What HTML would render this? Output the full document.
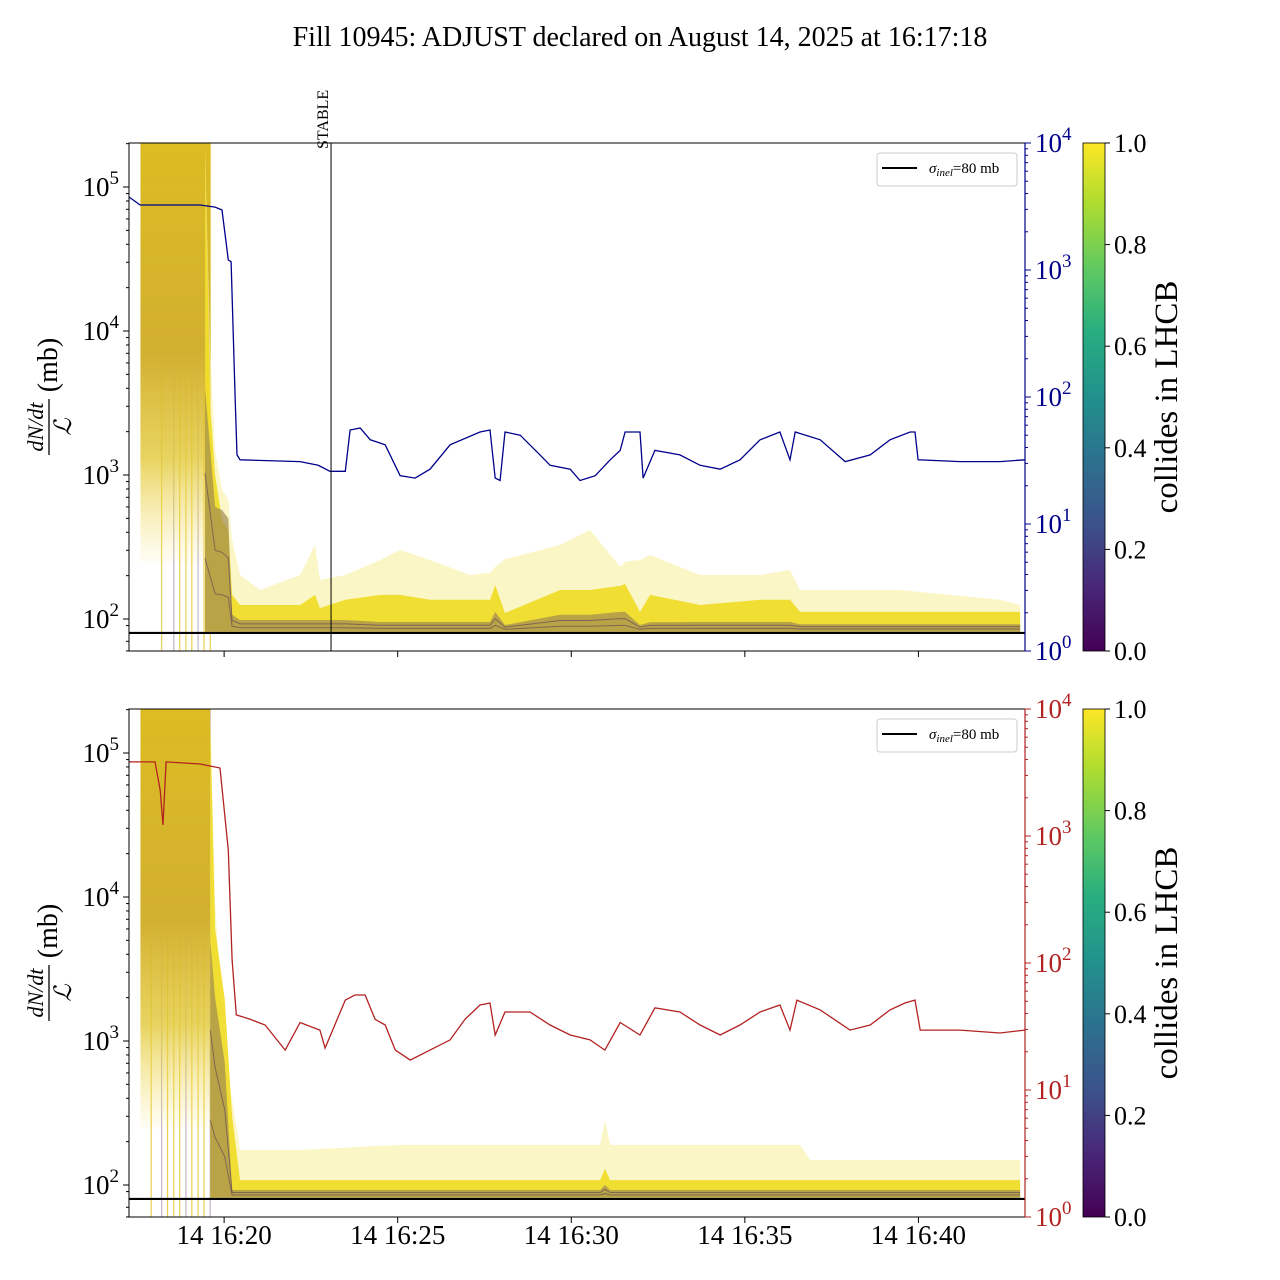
<!DOCTYPE html>
<html><head><meta charset="utf-8"><style>
html,body{margin:0;padding:0;background:#fff;}
svg{display:block;font-family:"Liberation Serif","DejaVu Serif",serif;}
</style></head><body>
<svg id="chart" width="1280" height="1280" viewBox="0 0 1280 1280" xmlns="http://www.w3.org/2000/svg">
<defs>
<linearGradient id="viridis" x1="0" y1="1" x2="0" y2="0">
<stop offset="0" stop-color="#440154"/><stop offset="0.13" stop-color="#482878"/><stop offset="0.25" stop-color="#3b528b"/><stop offset="0.38" stop-color="#2c728e"/><stop offset="0.5" stop-color="#21918c"/><stop offset="0.63" stop-color="#28ae80"/><stop offset="0.75" stop-color="#5ec962"/><stop offset="0.88" stop-color="#addc30"/><stop offset="1" stop-color="#fde725"/>
</linearGradient>
<linearGradient id="preband" x1="0" y1="0" x2="0" y2="1">
<stop offset="0" stop-color="#dcbc22"/><stop offset="0.5" stop-color="#d2b030"/><stop offset="0.75" stop-color="#e2c838" stop-opacity="0.8"/><stop offset="1" stop-color="#f5e060" stop-opacity="0.05"/>
</linearGradient>
</defs>
<text x="640" y="46" text-anchor="middle" font-size="28">Fill 10945: ADJUST declared on August 14, 2025 at 16:17:18</text>
<g id="plots"></g>
</svg>
<script>
// ---- data (time in minutes after 16:00) ----
const blueT=[17.26,17.58,19.31,19.74,19.94,20.12,20.20,20.32,20.37,20.46,22.19,22.71,23.05,23.49,23.63,23.92,24.21,24.64,25.07,25.50,25.93,26.51,27.37,27.66,27.81,27.95,28.09,28.53,29.10,29.39,29.97,30.25,30.69,31.12,31.41,31.55,31.98,32.07,32.41,33.13,33.71,34.29,34.86,35.44,36.01,36.30,36.45,37.17,37.89,38.61,39.18,39.76,39.90,39.99,41.20,42.35,43.07];
const blueV=[3760,3250,3250,3130,2970,1200,1160,95,35,32,31,29,26,26,55,57,46,42,24,23,27,42,53,55,23,22,53,50,35,29,27,22,24,32,38,53,53,23,38,35,29,27,32,46,53,32,53,46,31,35,46,53,53,32,31,31,32];
const redT=[17.26,18.01,18.16,18.24,18.33,19.31,19.88,20.12,20.23,20.35,20.75,21.18,21.76,22.19,22.76,22.91,23.49,23.77,24.06,24.35,24.64,24.93,25.36,25.93,26.51,26.94,27.37,27.66,27.81,28.09,28.81,29.39,29.97,30.54,30.97,31.41,31.98,32.41,33.13,33.71,34.29,34.86,35.44,36.01,36.30,36.50,37.17,38.03,38.61,39.18,39.61,39.90,40.05,41.20,42.35,43.07];
const redV=[3830,3830,2300,1220,3830,3690,3430,776,106,39,36,32.5,20.6,34,29.6,21.4,51,56,56,36,32.5,20.6,17.2,20.6,24.8,36,46.7,48.4,27.1,41.1,41.1,32.5,27.1,24.8,20.6,34,27.1,44.3,41.1,32.5,27.1,32.5,41.1,46.7,29.6,51,42.7,29.6,32.5,42.7,48.4,51,29.6,29.6,28.1,29.6];
// top panel band envelopes (mb)
const topT=[19.45,19.60,19.74,19.94,20.12,20.23,20.46,21.03,22.19,22.62,22.76,23.49,24.50,25.07,25.93,27.08,27.66,27.81,28.09,29.68,30.54,31.41,31.55,31.98,32.27,33.71,35.44,36.30,36.59,39.47,42.35,42.93];
const topUpper=[2.0e5,7380,1490,787,670,354,202,159,202,327,187,202,257,302,257,202,210,230,260,327,415,230,250,257,278,202,202,220,159,159,136,125];
const topDense=[1.5e5,3000,1000,487,415,147,125,125,125,147,119,136,147,147,136,136,136,172,110,159,159,170,175,112,147,125,136,136,112,112,112,112];
const topDark=[4000,1500,600,571,500,107,98.5,98.5,98.5,98.5,98.5,98.5,95.3,95.3,95.3,95.3,95.3,112,90.8,107,107,112,112,90.8,95,95.3,95.3,95.3,92,92,92,92];
const botT=[19.60,19.74,20.02,20.23,20.46,22.19,25.07,30.83,30.97,31.12,36.59,36.88,42.93];
const botUpper=[2.0e5,9530,738,389,175,175,190,190,282,190,190,149,149];
const botDense=[1.69e5,6000,1930,300,108,108,108,108,130,108,108,108,108];
const botDark=[5000,2000,700,92.3,92.3,92.3,92.3,92.3,100,92.3,92.3,92.3,92.3];
const spikesTop=[18.20,18.55,18.72,18.90,19.07,19.25,19.42,19.60];
const spikesBot=[17.90,18.20,18.37,18.55,18.72,18.90,19.07,19.25,19.42,19.60];
const xTicks=[20,25,30,35,40];
const xTickLabels=["14 16:20","14 16:25","14 16:30","14 16:35","14 16:40"];
const cbTicks=[0,0.2,0.4,0.6,0.8,1.0];
const sigma=80;
const stableT=23.08;

// ---- axes ----
const X0=129,X1=1025,T0=17.26,T1=43.07;
const xs=t=>X0+(t-T0)/(T1-T0)*(X1-X0);
const NS="http://www.w3.org/2000/svg";
const root=document.getElementById('plots');
function el(tag,attrs,parent,text){const e=document.createElementNS(NS,tag);for(const k in attrs)e.setAttribute(k,attrs[k]);if(text!==undefined)e.textContent=text;(parent||root).appendChild(e);return e;}

function panel(p){
  const top=p.top,bot=p.top+508;
  const yl=v=>p.top+44+(5-Math.log10(v))*144;
  const yr=v=>bot-Math.log10(v)*127;
  const g=el('g',{});
  
  
  const clip='clip'+p.name;
  const cp=el('clipPath',{id:clip},g);el('rect',{x:X0,y:top,width:X1-X0,height:508},cp);
  const pg=el('g',{'clip-path':'url(#'+clip+')'},g);
  p.spikes.forEach((t,i)=>{const l=el('line',{x1:xs(t),x2:xs(t),y1:top,y2:bot,stroke:i%4==1?'#b8a8c0':'#e8c830','stroke-width':1.2,opacity:0.85},pg);
    
    });
  const pre=el('rect',{x:xs(17.59),y:top,width:xs(19.6)-xs(17.59),height:420,fill:'url(#preband)'},pg);
  
  
  const poly=(arrT,arrA,arrB,fill,op,name)=>{let d='';arrT.forEach((t,i)=>d+=(i?'L':'M')+xs(t)+','+yl(arrA[i]));for(let i=arrT.length-1;i>=0;i--)d+='L'+xs(arrT[i])+','+yl(arrB[i]);
    const e=el('path',{d:d+'Z',fill:fill,opacity:op},pg);
    
    };
  const floor=p.T.map(()=>sigma*1.02);
  poly(p.T,p.upper,floor,'#f9f0a0',0.6,'band-faint');
  poly(p.T,p.dense,floor,'#f0dc22',0.9,'band-dense');
  poly(p.T,p.dark,floor,'#a08a50',0.7,'band-dark');
  [0.35,0.7].forEach(f=>{let d='';p.T.forEach((t,i)=>{const v=Math.pow(10,Math.log10(p.dark[i])*(1-f)+Math.log10(sigma*1.03)*f);d+=(i?'L':'M')+xs(t)+','+yl(v);});
    const e=el('path',{d:d,fill:'none',stroke:'#4a2a60','stroke-width':1,opacity:0.5},pg);
    
    });
  const sl=el('line',{x1:X0,x2:X1,y1:yl(sigma),y2:yl(sigma),stroke:'#000','stroke-width':2.2},pg);
  
  
  let d='';p.rT.forEach((t,i)=>d+=(i?'L':'M')+xs(t).toFixed(1)+','+yr(p.rV[i]).toFixed(1));
  const rl=el('path',{d:d,fill:'none',stroke:p.rc,'stroke-width':1.3},pg);
  
  
  if(p.stable){const s=el('line',{x1:xs(stableT),x2:xs(stableT),y1:top,y2:bot,stroke:'#000','stroke-width':1},g);
    
    
    const st=el('text',{x:0,y:0,'font-size':16,transform:`translate(${xs(stableT)-3},${top+6}) rotate(-90)`},g,'STABLE');
    
    }
  el('rect',{x:X0,y:top,width:X1-X0,height:508,fill:'none',stroke:'#000','stroke-width':1},g);
  for(let e=2;e<=5;e++){const y=yl(Math.pow(10,e));el('line',{x1:X0-6,x2:X0,y1:y,y2:y,stroke:'#000'},g);
    const t=el('text',{x:X0-10,y:y+9,'text-anchor':'end','font-size':27},g);
    
    
    el('tspan',{},t,'10');el('tspan',{dy:-12,'font-size':19},t,String(e));
    for(let m=2;m<10;m++){const v=m*Math.pow(10,e);const yy=yl(v);if(yy>top&&yy<bot)el('line',{x1:X0-3,x2:X0,y1:yy,y2:yy,stroke:'#000'},g);}
  }
  [60,70,90].forEach(v=>el('line',{x1:X0-3,x2:X0,y1:yl(v),y2:yl(v),stroke:'#000'},g));
  el('line',{x1:X1,x2:X1,y1:top,y2:bot,stroke:p.rc,'stroke-width':1.2},g);
  for(let e=0;e<=4;e++){const y=yr(Math.pow(10,e));el('line',{x1:X1,x2:X1+6,y1:y,y2:y,stroke:p.rc},g);
    const t=el('text',{x:X1+10,y:y+9,'font-size':27,fill:p.rc},g);
    
    
    el('tspan',{},t,'10');el('tspan',{dy:-12,'font-size':19},t,String(e));
    if(e<4)for(let m=2;m<10;m++){const yy=yr(m*Math.pow(10,e));el('line',{x1:X1,x2:X1+3,y1:yy,y2:yy,stroke:p.rc},g);}
  }
  xTicks.forEach((t,i)=>{const x=xs(t);el('line',{x1:x,x2:x,y1:bot,y2:bot+6,stroke:'#000'},g);
    if(p.labels){const tl=el('text',{x:x,y:bot+27,'text-anchor':'middle','font-size':27},g,xTickLabels[i]);
      
      }});
  const cy=top+254;
  const yg=el('g',{transform:`translate(47,${cy}) rotate(-90)`},g);
  
  
  el('text',{x:-30,y:-4,'text-anchor':'middle','font-size':22,'font-style':'italic'},yg,'dN/dt');
  el('line',{x1:-58,x2:-2,y1:2,y2:2,stroke:'#000','stroke-width':1.3},yg);
  el('text',{x:-30,y:24,'text-anchor':'middle','font-size':24,'font-style':'italic'},yg,'ℒ');
  el('text',{x:32,y:10,'text-anchor':'middle','font-size':28},yg,'(mb)');
  const lg=el('g',{},g);
  
  
  el('rect',{x:877,y:top+10,width:140,height:33,rx:3,fill:'#fff',stroke:'#ccc'},lg);
  el('line',{x1:882,x2:917,y1:top+25,y2:top+25,stroke:'#000','stroke-width':2},lg);
  const lt=el('text',{x:929,y:top+30,'font-size':15},lg);
  el('tspan',{'font-style':'italic'},lt,'σ');el('tspan',{'font-size':11,dy:3,'font-style':'italic'},lt,'inel');el('tspan',{dy:-3},lt,'=80 mb');
  const cb=el('g',{},g);
  
  
  el('rect',{x:1083,y:top,width:22,height:508,fill:'url(#viridis)',stroke:'#000','stroke-width':0.8},cb);
  cbTicks.forEach(v=>{const y=bot-v*508;el('line',{x1:1105,x2:1110,y1:y,y2:y,stroke:'#000'},cb);
    el('text',{x:1114,y:y+9,'font-size':26},cb,v.toFixed(1));});
  el('text',{x:0,y:0,'font-size':33,'text-anchor':'middle',transform:`translate(1177,${cy}) rotate(-90)`},cb,'collides in LHCB');
}
panel({name:'top-panel',top:143,T:topT,upper:topUpper,dense:topDense,dark:topDark,spikes:spikesTop,rT:blueT,rV:blueV,rc:'#00008b',rname:'blue-series-line',stable:true,labels:false});
panel({name:'bottom-panel',top:709,T:botT,upper:botUpper,dense:botDense,dark:botDark,spikes:spikesBot,rT:redT,rV:redV,rc:'#b22222',rname:'red-series-line',stable:false,labels:true});
</script>
</body></html>
